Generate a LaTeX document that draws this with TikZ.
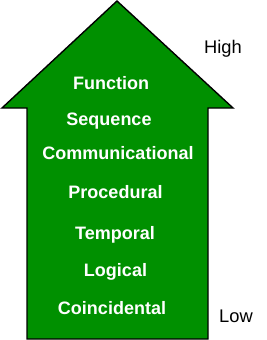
\documentclass[tikz,border=0pt]{standalone}
\usepackage{fontspec}
\setmainfont{Liberation Sans}
\definecolor{arrowgreen}{RGB}{0,144,0}
\begin{document}
\begin{tikzpicture}[x=1pt,y=-1pt,
  lbl/.style={text=white,font=\bfseries\fontsize{18}{21}\selectfont,anchor=base,inner sep=0pt},
  side/.style={text=black,font=\fontsize{18.3}{21}\selectfont,anchor=base,inner sep=0pt}]
\useasboundingbox (0,0) rectangle (267,340);
\draw[fill=arrowgreen,draw=black,line width=1.4pt,line join=miter]
  (117,1) -- (233,108) -- (208,108) -- (208,339) -- (27,339) -- (27,108) -- (2,108) -- cycle;
\node[lbl] (function) at (111,89) {Function};
\node[lbl] (sequence) at (109,125) {Sequence};
\node[lbl] (comm) at (118,159) {Communicational};
\node[lbl] (proc) at (115.5,198.3) {Procedural};
\node[lbl] (temp) at (115,239.3) {Temporal};
\node[lbl] (logical) at (115.5,276) {Logical};
\node[lbl] (coinc) at (112,314.3) {Coincidental};
\node[side] (high) at (223,53.3) {High};
\node[side] (low) at (236,322.7) {Low};
\end{tikzpicture}
\end{document}
